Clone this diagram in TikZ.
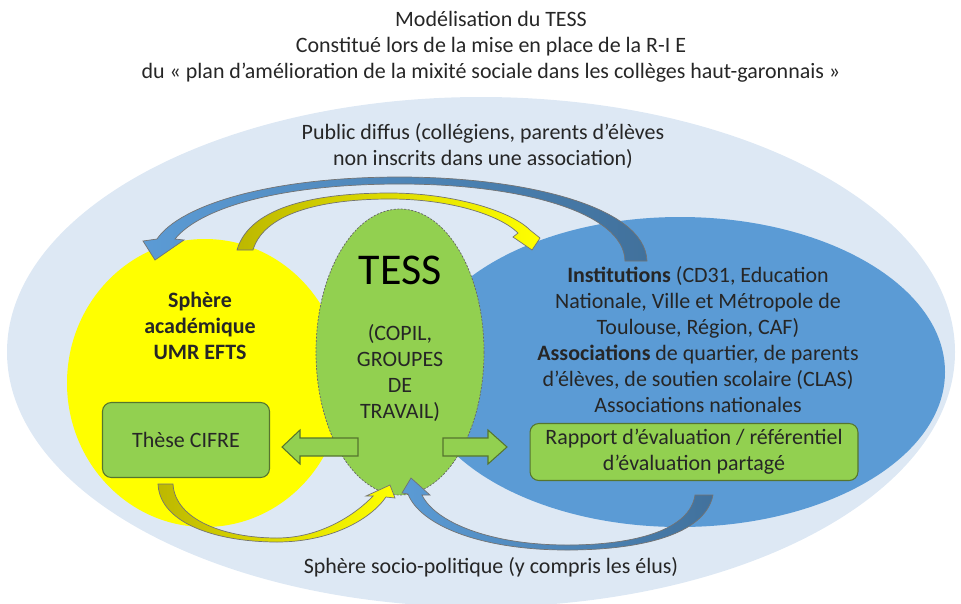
\documentclass[tikz,border=0pt]{standalone}
\usepackage{fontspec}
\setmainfont{Carlito}
\usetikzlibrary{positioning}
\definecolor{fond}{HTML}{DDE8F4}
\definecolor{jaune}{HTML}{FFFF00}
\definecolor{jauneF}{HTML}{BDB800}
\definecolor{bleu}{HTML}{5B9BD5}
\definecolor{bleuF}{HTML}{41719C}
\definecolor{vert}{HTML}{92D050}
\definecolor{vertF}{HTML}{56752E}
\definecolor{texte}{HTML}{262626}
\newcommand{\corps}{\fontsize{12.5}{14.8}\selectfont}

\begin{document}
\begin{tikzpicture}[x=0.02cm, y=-0.02cm, font=\corps, text=texte,
  bande/.style={draw=black!55, line width=0.4pt},
  boite/.style={draw=vertF, fill=vert, line width=0.6pt, rounded corners=5pt, align=center},
  fleche/.style={draw=vertF, fill=vert, line width=0.6pt}]
  \useasboundingbox (0,0) rectangle (961,603);
  % les sphères
  \fill[fond] (481,352) ellipse [x radius=474, y radius=255];
  \fill[jaune] (205,383) ellipse [x radius=138, y radius=144];
  \fill[bleu] (680,372) ellipse [x radius=265, y radius=155];
  \filldraw[fill=vert, draw=black!60, line width=0.4pt, dash pattern=on 1.2pt off 0.8pt]
    (400,352) ellipse [x radius=84, y radius=143];
  % flèches courbes du haut
  \draw[bande, left color=bleu, right color=bleuF]
    (647,261) .. controls (645,205) and (520,177) .. (400,177)
    .. controls (270,177) and (180,205) .. (157,239)
    -- (143,241) -- (155,260) -- (184,240) -- (175,239)
    .. controls (200,208) and (280,184) .. (400,184)
    .. controls (520,184) and (624,212) .. (625,261) -- cycle;
  \draw[bande, left color=jauneF, right color=jaune]
    (237,250) .. controls (250,205) and (320,193) .. (390,193)
    .. controls (450,193) and (510,210) .. (530,230)
    -- (540,238) -- (532,250) -- (513,237) -- (518,233)
    .. controls (500,215) and (450,199) .. (390,199)
    .. controls (330,199) and (265,210) .. (253,250) -- cycle;
  % flèches courbes du bas
  \draw[bande, left color=jauneF, right color=jaune]
    (158,484) .. controls (160,525) and (220,542) .. (277,542)
    .. controls (330,542) and (370,520) .. (386,497)
    -- (395,498) -- (390,485) -- (366,496) -- (373,496)
    .. controls (355,515) and (320,538) .. (277,538)
    .. controls (225,538) and (175,520) .. (173,484) -- cycle;
  \draw[bande, left color=bleu, right color=bleuF]
    (713,495) .. controls (705,535) and (640,550) .. (567,550)
    .. controls (480,550) and (420,525) .. (408,494)
    -- (402,493) -- (411,478) -- (430,495) -- (422,495)
    .. controls (435,522) and (490,545) .. (567,545)
    .. controls (635,545) and (690,530) .. (695,495) -- cycle;
  % textes
  \node[align=center] (titre) at (491,47)
    {Modélisation du TESS\\Constitué lors de la mise en place de la R-I E\\du «~plan d’amélioration de la mixité sociale dans les collèges haut-garonnais~»};
  \node[align=center] (public) at (483,146)
    {Public diffus (collégiens, parents d’élèves\\non inscrits dans une association)};
  \node[align=center, font=\corps\bfseries] (academique) at (200,326)
    {Sphère\\académique\\UMR EFTS};
  \node[font=\fontsize{25}{29}\selectfont, text=black] (tess) at (400,270) {TESS};
  \node[align=center] (copil) at (400,373) {(COPIL,\\GROUPES\\DE\\TRAVAIL)};
  \node[align=center] (acteurs) at (698,340)
    {\textbf{Institutions} (CD31, Education\\Nationale, Ville et Métropole de\\Toulouse, Région, CAF)\\\textbf{Associations} de quartier, de parents\\d’élèves, de soutien scolaire (CLAS)\\Associations nationales};
  \node[boite, minimum width=3.34cm, minimum height=1.5cm] (these) at (186,440) {Thèse CIFRE};
  \node[boite, minimum width=6.56cm, minimum height=1.1cm] (rapport) at (694,452)
    {Rapport d’évaluation / référentiel\\d’évaluation partagé};
  \node (socio) at (491,567) {Sphère socio-politique (y compris les élus)};
  % flèches pleines vers les productions
  \draw[fleche] (358,438) -- (300,438) -- (300,430) -- (282,447) -- (300,464) -- (300,456) -- (358,456) -- cycle;
  \draw[fleche] (443,438) -- (488,438) -- (488,430) -- (507,447) -- (488,464) -- (488,456) -- (443,456) -- cycle;
\end{tikzpicture}
\end{document}
